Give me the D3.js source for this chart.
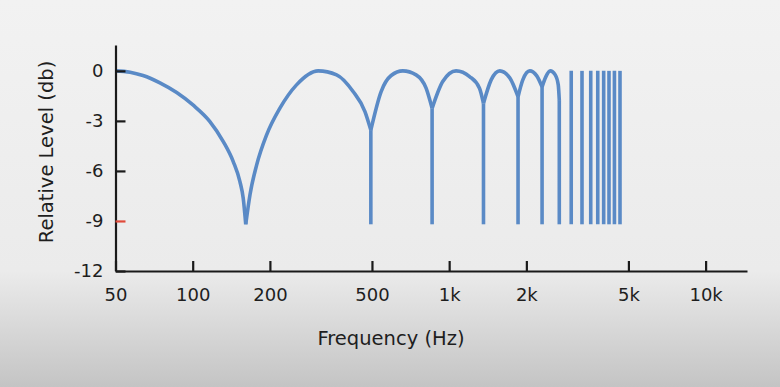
<!DOCTYPE html>
<html>
<head>
<meta charset="utf-8">
<script src="https://cdn.jsdelivr.net/npm/d3@7"></script>
<style>
  html, body { margin: 0; padding: 0; }
  body { width: 780px; height: 387px; overflow: hidden; }
  text { font-family: "DejaVu Sans", Verdana, sans-serif; fill: #1e1e1e; }
</style>
</head>
<body>
<svg id="chart"></svg>
<script>
// axis ticks
var xTickValues = [50, 100, 200, 500, 1000, 2000, 5000, 10000];
var xTickLabels = ["50", "100", "200", "500", "1k", "2k", "5k", "10k"];
var yTickValues = [0, -3, -6, -9, -12];
var yTickLabels = ["0", "-3", "-6", "-9", "-12"];

// response lobes, [Hz, dB]
var lobe1 = [[50, 0], [57, -0.08], [64, -0.28], [74.5, -0.72], [86.6, -1.3], [100.5, -2.06], [116.7, -3.04],
             [131.6, -4.24], [143.9, -5.44], [152.8, -6.64], [157.4, -7.64], [161, -9.2]];
var lobe2 = [[161, -9.2], [167.2, -7.44], [177.6, -5.64], [194.2, -3.84], [218.8, -2.24], [254, -0.84],
             [308.5, 0], [364, -0.24], [422, -1.24], [469.5, -2.44], [495, -3.55]];
var lobe3 = [[495, -3.55], [543, -1.24], [594, -0.28], [660, 0], [743, -0.24], [813, -1.04], [858, -2.25]];
var lobe4 = [[858, -2.25], [944, -0.64], [1064, 0], [1201, -0.34], [1313, -1.04], [1361, -1.95]];
var lobe5 = [[1361, -1.95], [1458, -0.54], [1575, 0], [1723, -0.42], [1856, -1.55]];
var lobe6 = [[1856, -1.55], [1937, -0.54], [2062, 0], [2196, -0.3], [2303, -0.96]];
var lobe7 = [[2303, -0.96], [2381, -0.36], [2479, 0], [2592, -0.24], [2663, -0.84], [2688, -1.75]];

// notch drops (vertical lines down to the floor)
var dropFreqs = [495, 858, 1361, 1856, 2303, 2688, 2992, 3296, 3565, 3797, 4004, 4200, 4410, 4636];
var dropTops = [-3.55, -2.25, -1.95, -1.55, -0.96, -1.75, 0, 0, 0, 0, 0, 0, 0, 0];
var notchFloor = -9.2;

var width = 780, height = 387;
var lineColor = "#5a8ac6";

var svg = d3.select("#chart")
    .attr("width", width)
    .attr("height", height);

// background wash
var grad = svg.append("defs").append("linearGradient")
    .attr("id", "bg")
    .attr("x1", 0).attr("y1", 0).attr("x2", 0).attr("y2", 1);
grad.append("stop").attr("offset", "0%").attr("stop-color", "#f2f2f2");
grad.append("stop").attr("offset", "70%").attr("stop-color", "#ebebeb");
grad.append("stop").attr("offset", "100%").attr("stop-color", "#c4c4c4");

svg.append("rect")
    .attr("width", width)
    .attr("height", height)
    .attr("fill", "url(#bg)");

var x = d3.scaleLog()
    .domain([50, 14500])
    .range([115.5, 747]);

var y = d3.scaleLinear()
    .domain([-12, 1.55])
    .range([271, 45]);

// lobes
var line = d3.line()
    .x(function(d) { return x(d[0]); })
    .y(function(d) { return y(d[1]); })
    .curve(d3.curveMonotoneX);

var lobes = [lobe1, lobe2, lobe3, lobe4, lobe5, lobe6, lobe7];

svg.append("g").selectAll("path")
    .data(lobes)
    .enter()
    .append("path")
    .attr("d", line)
    .attr("fill", "none")
    .attr("stroke", lineColor)
    .attr("stroke-width", 3.6)
    .attr("stroke-linejoin", "round");

svg.append("g").selectAll("line")
    .data(dropFreqs)
    .enter()
    .append("line")
    .attr("x1", function(d) { return x(d); })
    .attr("x2", function(d) { return x(d); })
    .attr("y1", function(d, i) { return y(dropTops[i]); })
    .attr("y2", y(notchFloor))
    .attr("stroke", lineColor)
    .attr("stroke-width", 3.6);

// axes
var xAxis = d3.axisBottom(x)
    .tickValues(xTickValues)
    .tickFormat(function(d, i) { return xTickLabels[i]; })
    .tickSizeInner(-10)
    .tickSizeOuter(0)
    .tickPadding(17);

var yAxis = d3.axisLeft(y)
    .tickValues(yTickValues)
    .tickFormat(function(d, i) { return yTickLabels[i]; })
    .tickSizeInner(-10)
    .tickSizeOuter(0)
    .tickPadding(12);

var gx = svg.append("g")
    .attr("transform", "translate(0," + y(-12) + ")")
    .call(xAxis);

var gy = svg.append("g")
    .attr("transform", "translate(" + x(50) + ",0)")
    .call(yAxis);

[gx, gy].forEach(function(g) {
    g.selectAll("path, line").attr("stroke", "#1a1a1a").attr("stroke-width", 2.2);
    g.selectAll("text")
        .attr("font-family", "DejaVu Sans, Verdana, sans-serif")
        .attr("font-size", "18px")
        .attr("fill", "#1e1e1e");
});

// the -9 tick is marked red
gy.selectAll(".tick")
    .filter(function(d) { return d === -9; })
    .select("line")
    .attr("stroke", "#e04a3a");

// axis titles
svg.append("text")
    .attr("x", 391)
    .attr("y", 345)
    .attr("text-anchor", "middle")
    .attr("font-size", "19.5px")
    .text("Frequency (Hz)");

svg.append("text")
    .attr("transform", "translate(53,152) rotate(-90)")
    .attr("text-anchor", "middle")
    .attr("font-size", "19.5px")
    .text("Relative Level (db)");
</script>
</body>
</html>
